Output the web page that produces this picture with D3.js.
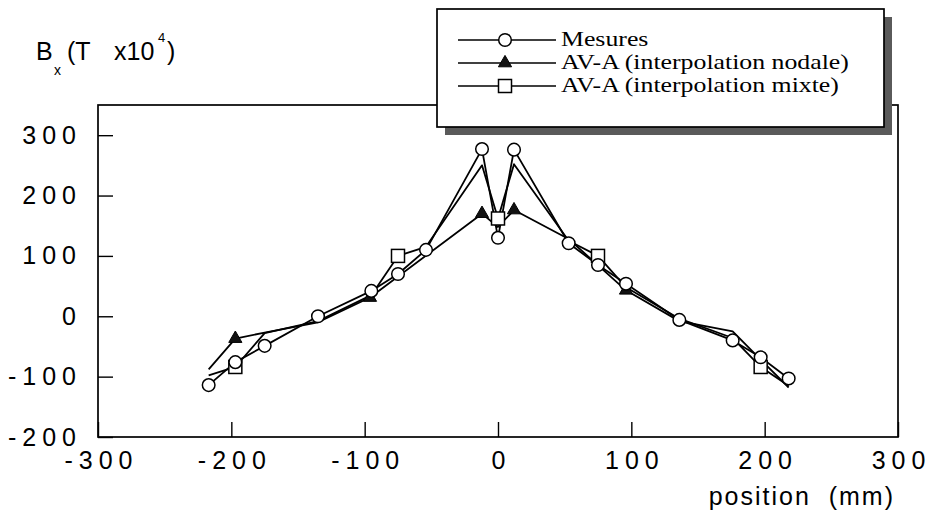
<!DOCTYPE html>
<html><head><meta charset="utf-8">
<script src="https://cdn.jsdelivr.net/npm/d3@7"></script>
<style>
html,body{margin:0;padding:0;background:#fff;}
svg{display:block;}
</style></head>
<body>
<svg id="chart" width="933" height="522"></svg>
<script>
// ---- data ----
const seriesNames = ["Mesures", "AV-A (interpolation nodale)", "AV-A (interpolation mixte)"];
const mesuresX = [-217,-197,-175,-135,-95,-75,-54,-12,0,12,53,75,96,136,176,197,218];
const mesuresY = [-114,-76,-49,0,42,70,110,277,130,276,121,85,54,-6,-40,-68,-103];
const nodaleX = [-217,-197,-175,-135,-96,-12,0,12,53,96,136,176,197,218];
const nodaleY = [-88,-37,-27,-10,31,170,148,176,128,43,-8,-25,-72,-118];
const nodaleMarked = [-197,-96,-12,12,96];
const mixteX = [-217,-197,-175,-135,-95,-75,-54,-12,0,12,53,75,96,136,176,197,218];
const mixteY = [-98,-84,-28,-8,35,100,115,250,162,252,125,100,48,-4,-36,-84,-115];
const mixteMarked = [-197,-75,0,75,197];
const xTicks = [-300,-200,-100,0,100,200,300];
const yTicks = [-200,-100,0,100,200,300];

const svg = d3.select("#chart");
const L = 98, R = 898, T = 105, B = 437;
const x = d3.scaleLinear().domain([-300,300]).range([L,R]);
const y = d3.scaleLinear().domain([-200,350]).range([B,T]);
const sans = "'Liberation Sans', Arial, sans-serif";

// frame
svg.append("rect").attr("x",L).attr("y",T).attr("width",R-L).attr("height",B-T)
  .attr("fill","none").attr("stroke","#000").attr("stroke-width",1.7);

// axes
const fmt = d => d < 0 ? "-" + Math.abs(d) : String(d);
const xAxis = d3.axisBottom(x).tickValues(xTicks).tickSizeInner(-15).tickSizeOuter(0).tickPadding(14).tickFormat(fmt);
const gx = svg.append("g").attr("transform",`translate(0,${B})`).call(xAxis);
gx.select(".domain").remove();
gx.selectAll("line").attr("stroke","#000").attr("stroke-width",1.4);
gx.selectAll("text").attr("font-family",sans).attr("font-size",25)
  .attr("letter-spacing","6px").attr("dx","3").attr("fill","#000");

const yAxis = d3.axisLeft(y).tickValues(yTicks).tickSizeInner(-15).tickSizeOuter(0).tickPadding(16).tickFormat(fmt);
const gy = svg.append("g").attr("transform",`translate(${L},0)`).call(yAxis);
gy.select(".domain").remove();
gy.selectAll("line").attr("stroke","#000").attr("stroke-width",1.4);
gy.selectAll("text").attr("font-family",sans).attr("font-size",25)
  .attr("letter-spacing","6px").attr("fill","#000");

// lines
const line = d3.line().x(d => x(d[0])).y(d => y(d[1]));
const mes = mesuresX.map((v,i)=>[v,mesuresY[i]]);
const nod = nodaleX.map((v,i)=>[v,nodaleY[i]]);
const mix = mixteX.map((v,i)=>[v,mixteY[i]]);
[mes,nod,mix].forEach(s => {
  svg.append("path").datum(s).attr("d",line).attr("fill","none")
    .attr("stroke","#000").attr("stroke-width",1.8).attr("stroke-linejoin","round");
});

// markers
const tri = d3.symbol().type(d3.symbolTriangle).size(75);
function drawCircle(g,cx,cy){ g.append("circle").attr("cx",cx).attr("cy",cy).attr("r",6.3)
  .attr("fill","#fff").attr("stroke","#000").attr("stroke-width",1.5); }
function drawSquare(g,cx,cy){ g.append("rect").attr("x",cx-6.5).attr("y",cy-6.5).attr("width",13).attr("height",13)
  .attr("fill","#fff").attr("stroke","#000").attr("stroke-width",1.5); }
function drawTri(g,cx,cy){ g.append("path").attr("d",tri).attr("transform",`translate(${cx},${cy})`)
  .attr("fill","#111").attr("stroke","#000").attr("stroke-width",1); }
const gm = svg.append("g");
nod.filter(d => nodaleMarked.includes(d[0])).forEach(d => drawTri(gm,x(d[0]),y(d[1])));
mix.filter(d => mixteMarked.includes(d[0])).forEach(d => drawSquare(gm,x(d[0]),y(d[1])));
mes.forEach(d => drawCircle(gm,x(d[0]),y(d[1])));

// y title
const yt = svg.append("text").attr("font-family",sans).attr("fill","#000");
yt.append("tspan").attr("x",36).attr("y",60).attr("font-size",25).text("B");
yt.append("tspan").attr("x",54).attr("y",75).attr("font-size",14).text("x");
yt.append("tspan").attr("x",67).attr("y",60).attr("font-size",25).text("(T");
yt.append("tspan").attr("x",114).attr("y",60).attr("font-size",25).text("x10");
yt.append("tspan").attr("x",158).attr("y",42).attr("font-size",13).text("4");
yt.append("tspan").attr("x",167).attr("y",60).attr("font-size",25).text(")");

// x title
svg.append("text").attr("x",895).attr("y",505).attr("text-anchor","end")
  .attr("font-family",sans).attr("font-size",25)
  .attr("letter-spacing","2px").attr("fill","#000").attr("xml:space","preserve").text("position  (mm)");

// legend
const lg = svg.append("g");
const bx = 437, by = 9, bw = 447, bh = 118;
lg.append("rect").attr("x",bx+8).attr("y",by+8).attr("width",bw).attr("height",bh).attr("fill","#5a5a5a");
lg.append("rect").attr("x",bx).attr("y",by).attr("width",bw).attr("height",bh)
  .attr("fill","#fff").attr("stroke","#000").attr("stroke-width",1.7);
const rowsY = [40,63,86];
seriesNames.forEach((name,i) => {
  const ry = rowsY[i];
  lg.append("line").attr("x1",458).attr("x2",556).attr("y1",ry).attr("y2",ry)
    .attr("stroke","#000").attr("stroke-width",1.4);
  if (i===0) drawCircle(lg,505,ry);
  if (i===1) drawTri(lg,505,ry);
  if (i===2) drawSquare(lg,505,ry);
  lg.append("text").attr("transform",`translate(561,${ry+6}) scale(1.2,1)`)
    .attr("font-family","'Liberation Serif', 'Times New Roman', serif")
    .attr("font-size",21.5).attr("fill","#000").text(name);
});
</script>
</body></html>
